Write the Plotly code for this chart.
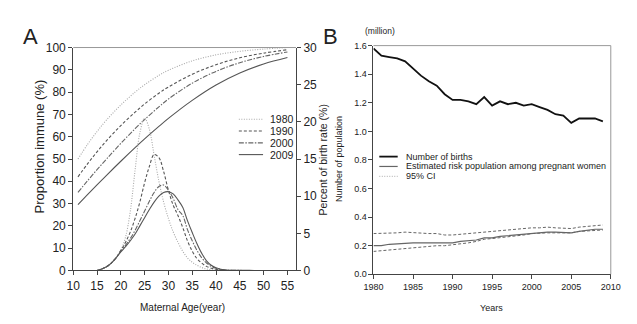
import plotly.graph_objects as go

W, H = 637, 324

# ---- Panel A data ----
imm_ages = [11, 13, 15, 17, 20, 23, 25, 28, 30, 35, 40, 45, 50, 55]
immune_1980 = [50, 56.5, 62.3, 67.5, 74.2, 80, 83.3, 87.5, 89.8, 94, 96.7, 98.3, 99.3, 100]
immune_1990 = [42, 47.8, 53.2, 58.2, 65, 71, 74.7, 79.5, 82.3, 88, 92.3, 95.4, 97.5, 99]
immune_2000 = [35, 40.2, 45.2, 50, 57, 63.6, 67.7, 73.4, 76.9, 84, 89.3, 93.2, 96, 98]
immune_2009 = [29.5, 34, 38.4, 42.7, 49, 55.1, 59, 64.6, 68.2, 76.3, 83.2, 88.6, 92.6, 95.5]

birth_ages = list(range(15, 49))
birth_1980 = [0, 0.2, 0.5, 1.0, 1.7, 2.7, 4.5, 8, 13.5, 18.5, 20.5, 19, 15.5, 12, 9.2, 7, 5.2,
              3.8, 2.6, 1.7, 1.1, 0.7, 0.4, 0.2, 0.1, 0.05, 0, 0, 0, 0, 0, 0, 0, 0]
birth_1990 = [0, 0.2, 0.5, 1.0, 1.7, 2.7, 3.8, 5.2, 7, 9.2, 11.8, 14, 15.6, 15.2, 13.3, 10.8, 8.8,
              7.4, 5.8, 4, 2.6, 1.6, 1, 0.55, 0.3, 0.15, 0.07, 0.03, 0.01, 0, 0, 0, 0, 0]
birth_2000 = [0, 0.2, 0.5, 1.0, 1.7, 2.6, 3.4, 4.3, 5.4, 6.7, 8, 9.3, 10.5, 11.3, 11.5, 10.8, 9.7,
              8.2, 7.4, 5.5, 4, 2.7, 1.7, 1, 0.55, 0.3, 0.15, 0.07, 0.03, 0.01, 0.01, 0, 0, 0]
birth_2009 = [0, 0.2, 0.5, 1.0, 1.7, 2.5, 3.2, 4.0, 4.9, 6, 7.1, 8.2, 9.2, 10, 10.5, 10.6, 10.3,
              9.5, 8.5, 6.7, 5.1, 3.6, 2.3, 1.3, 0.7, 0.35, 0.15, 0.07, 0.03, 0.02, 0.01, 0.01, 0.01, 0]

# ---- Panel B data ----
years = list(range(1980, 2010))
births = [1.58, 1.53, 1.52, 1.51, 1.49, 1.44, 1.39, 1.35, 1.32, 1.26, 1.22, 1.22, 1.21, 1.19, 1.24,
          1.18, 1.21, 1.19, 1.20, 1.18, 1.19, 1.17, 1.15, 1.12, 1.11, 1.06, 1.09, 1.09, 1.09, 1.07]
risk = [0.20, 0.20, 0.21, 0.215, 0.22, 0.22, 0.22, 0.22, 0.22, 0.22, 0.22, 0.23, 0.235, 0.24, 0.255,
        0.255, 0.265, 0.27, 0.275, 0.28, 0.29, 0.29, 0.295, 0.295, 0.295, 0.29, 0.30, 0.31, 0.315, 0.315]
ci_upper = [0.285, 0.285, 0.29, 0.29, 0.295, 0.29, 0.29, 0.285, 0.285, 0.275, 0.275, 0.28, 0.285, 0.29, 0.30,
            0.30, 0.305, 0.31, 0.315, 0.32, 0.325, 0.325, 0.33, 0.325, 0.325, 0.32, 0.33, 0.335, 0.345, 0.345]
ci_lower = [0.16, 0.165, 0.17, 0.18, 0.185, 0.185, 0.19, 0.195, 0.20, 0.20, 0.205, 0.21, 0.22, 0.23, 0.245,
            0.25, 0.255, 0.265, 0.27, 0.275, 0.285, 0.29, 0.29, 0.29, 0.29, 0.29, 0.30, 0.305, 0.31, 0.31]

FONT = "Arial, Liberation Sans, sans-serif"
TXT = "#222"


def px(x):
    return x / W


def py(y):
    return 1 - y / H


styles = {
    "1980": dict(color="#a8a8a8", dash="1px,1.5px"),
    "1990": dict(color="#555", dash="3px,2px"),
    "2000": dict(color="#666", dash="5px,1.5px,1.5px,1.5px"),
    "2009": dict(color="#555", dash="solid"),
}

fig = go.Figure()

immune = {"1980": immune_1980, "1990": immune_1990, "2000": immune_2000, "2009": immune_2009}
birth = {"1980": birth_1980, "1990": birth_1990, "2000": birth_2000, "2009": birth_2009}

for yr in ["1980", "1990", "2000", "2009"]:
    fig.add_trace(go.Scatter(x=imm_ages, y=immune[yr], mode="lines", line_shape="spline",
                             line=dict(width=1.1, **styles[yr]), xaxis="x", yaxis="y", showlegend=False))
    fig.add_trace(go.Scatter(x=birth_ages, y=birth[yr], mode="lines", line_shape="spline",
                             line=dict(width=1.1, **styles[yr]), xaxis="x", yaxis="y2", showlegend=False))

fig.add_trace(go.Scatter(x=years, y=births, mode="lines", line=dict(color="#111", width=1.8),
                         xaxis="x3", yaxis="y3", showlegend=False))
fig.add_trace(go.Scatter(x=years, y=risk, mode="lines", line=dict(color="#666", width=1.2),
                         xaxis="x3", yaxis="y3", showlegend=False))
for ci in (ci_upper, ci_lower):
    fig.add_trace(go.Scatter(x=years, y=ci, mode="lines", line=dict(color="#666", width=1, dash="3px,2px"),
                             xaxis="x3", yaxis="y3", showlegend=False))

ax_common = dict(showgrid=False, zeroline=False, showline=True, linecolor="#444", linewidth=1,
                 ticks="outside", ticklen=4, tickcolor="#444")

fig.update_layout(
    width=W, height=H,
    margin=dict(l=0, r=0, t=0, b=0),
    paper_bgcolor="white", plot_bgcolor="white",
    font=dict(family=FONT, color=TXT),
    xaxis=dict(domain=[px(57), px(287)], range=[10, 56.8], tickvals=list(range(10, 60, 5)),
               anchor="y", tickfont=dict(size=12), **ax_common),
    yaxis=dict(domain=[py(267), py(34)], range=[0, 100], dtick=10, anchor="x",
               tickfont=dict(size=12), **ax_common),
    yaxis2=dict(overlaying="y", side="right", range=[0, 30], dtick=5, anchor="x",
                tickfont=dict(size=12), **ax_common),
    xaxis3=dict(domain=[px(367), px(612)], range=[1980, 2010], dtick=5, anchor="y3",
                tickfont=dict(size=9), **ax_common),
    yaxis3=dict(domain=[py(271), py(32)], range=[0, 1.6], dtick=0.2, tickformat=".1f", anchor="x3",
                tickfont=dict(size=9), **ax_common),
)

# frame lines
fig.add_shape(type="line", xref="x domain", yref="y domain", x0=0, x1=1, y0=1, y1=1,
              line=dict(color="#999", width=1))
fig.add_shape(type="line", xref="x3 domain", yref="y3 domain", x0=0, x1=1, y0=1, y1=1,
              line=dict(color="#999", width=1))
fig.add_shape(type="line", xref="x3 domain", yref="y3 domain", x0=1, x1=1, y0=0, y1=1,
              line=dict(color="#999", width=1))

ann = []


def text(x, y, s, size, angle=0, xanchor="center", color=TXT):
    ann.append(dict(x=px(x), y=py(y), xref="paper", yref="paper", text=s, showarrow=False,
                    textangle=angle, xanchor=xanchor, yanchor="middle",
                    font=dict(size=size, color=color, family=FONT)))


text(13, 22, "A", 22)
text(323, 22, "B", 22)
text(356, 17, "(million)", 8.5, xanchor="left")
text(22, 137, "Proportion immune (%)", 13, angle=-90)
text(315, 152, "Percent of birth rate (%)", 10.5, angle=-90)
text(332, 151, "Number of population", 9, angle=-90)
text(170, 306, "Maternal Age(year)", 10)
text(489, 306, "Years", 9)

# legend A
for i, yr in enumerate(["1980", "1990", "2000", "2009"]):
    yy = 109 + i * 12.3
    fig.add_shape(type="line", xref="paper", yref="paper", x0=px(228), x1=px(253), y0=py(yy), y1=py(yy),
                  line=dict(width=1.1, **styles[yr]))
    text(258, yy, yr, 10.5, xanchor="left")

# legend B
leg_b = [("Number of births", dict(color="#111", width=1.8)),
         ("Estimated risk population among pregnant women", dict(color="#666", width=1.2)),
         ("95% CI", dict(color="#aaa", width=1, dash="1px,1.5px"))]
for i, (lab, ln) in enumerate(leg_b):
    yy = 148 + i * 10.3
    fig.add_shape(type="line", xref="paper", yref="paper", x0=px(373), x1=px(392), y0=py(yy), y1=py(yy),
                  line=ln)
    text(399, yy, lab, 9, xanchor="left")

fig.update_layout(annotations=ann)

fig.write_html("out.html")
